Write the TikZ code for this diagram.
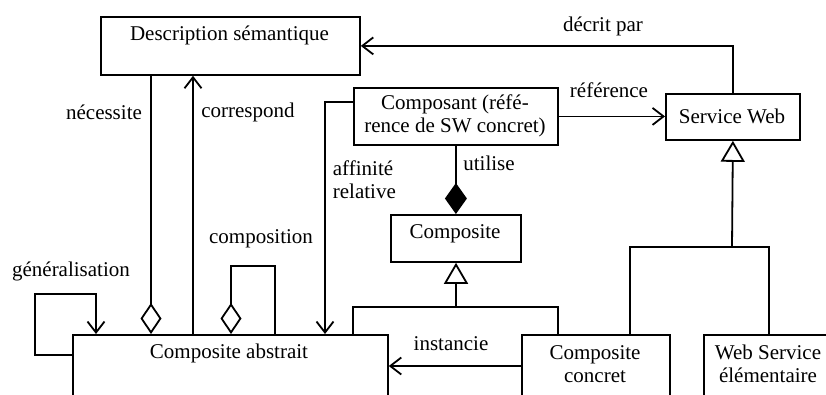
\documentclass[tikz,border=0pt]{standalone}
\usepackage{fontspec}
\setmainfont{Liberation Serif}
\newfontfamily\tms{Liberation Serif}
\usetikzlibrary{arrows.meta}
\begin{document}
\begin{tikzpicture}[x=1pt,y=-1pt,line width=1.8pt,
  box/.style={draw,rectangle,inner sep=0pt,anchor=north west},
  txt/.style={font=\tms\fontsize{21}{23}\selectfont,inner sep=0pt,align=center},
  barb/.style={-{Straight Barb[length=11pt,width=17pt]}},
  odia/.style={{Diamond[open,length=31pt,width=21pt]}-},
  fdia/.style={{Diamond[length=31pt,width=22pt]}-},
  gen/.style={-{Triangle[open,length=21pt,width=24pt]}}]
\useasboundingbox (0,0) rectangle (826,394);
\clip (0,0) rectangle (826,394);
% boxes
\node[box,minimum width=259pt,minimum height=58pt] (desc) at (100,16) {};
\node[box,minimum width=315pt,minimum height=100pt] (abs) at (72,334) {};
\node[box,minimum width=204pt,minimum height=57pt] (comp) at (353,87) {};
\node[box,minimum width=134pt,minimum height=46pt] (sw) at (665,93) {};
\node[box,minimum width=130pt,minimum height=47pt] (cmp) at (390,214) {};
\node[box,minimum width=148pt,minimum height=100pt] (conc) at (521,334) {};
\node[box,minimum width=140pt,minimum height=100pt] (wse) at (703,334) {};
% box texts
\node[txt] (tdesc) at (229.5,35) {Description sémantique};
\node[txt] (tabs) at (229,353) {Composite abstrait};
\node[txt] (tcomp) at (455,116) {Composant (réfé-\\rence de SW concret)};
\node[txt] (tsw) at (732,116) {Service Web};
\node[txt] (tcmp) at (455,234) {Composite};
\node[txt] (tconc) at (595,364) {Composite\\concret};
\node[txt] (twse) at (768,364) {Web Service\\élémentaire};
% labels
\node[txt] (lnec) at (104,112) {nécessite};
\node[txt] (lcor) at (248,112) {correspond};
\node[txt,anchor=west,align=left] (laff) at (332,180) {affinité\\relative};
\node[txt] (lgen) at (71,271) {généralisation};
\node[txt] (lcomp) at (261,239) {composition};
\node[txt] (linst) at (451,344) {instancie};
\node[txt] (ldec) at (603,26) {décrit par};
\node[txt] (lref) at (609,90) {référence};
\node[txt] (luti) at (489,163) {utilise};
% connectors
\draw[barb] (sw.north) |- (desc.east);
\draw[barb] (comp.east) -- (comp.east -| sw.west);
\draw[odia] ([xshift=79pt]abs.north west) -- ([xshift=51pt]desc.south west);
\draw[barb] ([xshift=121pt]abs.north west) -- ([xshift=93pt]desc.south west);
\draw[barb] ([yshift=-21pt]abs.north west) -- ++(-37,0) -- ++(0,-61) -| ([xshift=24pt]abs.north west);
\draw[odia] ([xshift=159pt]abs.north west) -- ++(0,-68) -| ([xshift=203pt]abs.north west);
\draw[barb] ([yshift=-15pt]comp.north west) -| ([xshift=253pt]abs.north west);
\draw[fdia] (cmp.north) -- (comp.south);
\coordinate (j1) at (456,307);
\draw ([xshift=281pt]abs.north west) |- (j1) -| ([xshift=37pt]conc.north west);
\draw[gen] (j1) -- (j1 |- cmp.south);
\coordinate (j2) at (732,247);
\draw ([xshift=109pt]conc.north west) |- (j2) -| ([xshift=66pt]wse.north west);
\draw[gen] (j2) -- (sw.south);
\coordinate (i1) at ([yshift=-32pt]conc.north west);
\draw[barb] (i1) -- (i1 -| abs.east);
\end{tikzpicture}
\end{document}
